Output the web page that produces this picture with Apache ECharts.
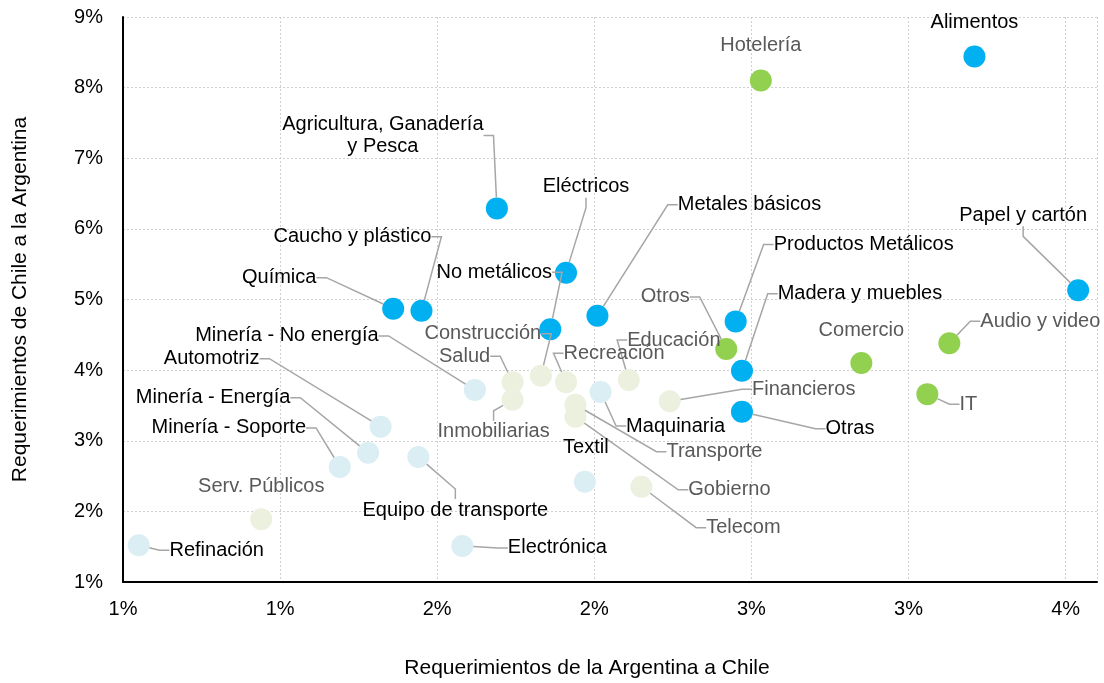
<!DOCTYPE html>
<html>
<head>
<meta charset="utf-8">
<script src="https://cdn.jsdelivr.net/npm/echarts@6/dist/echarts.min.js"></script>
<style>
  html, body { margin: 0; padding: 0; background: #fff; }
  #chart { width: 1104px; height: 683px; }
</style>
</head>
<body>
<div id="chart"></div>
<script>
// values in % (x: Argentina -> Chile, y: Chile -> Argentina)
const blueNames = ['Alimentos', 'Agricultura, Ganadería\ny Pesca', 'Eléctricos', 'Metales básicos', 'Papel y cartón',
  'Caucho y plástico', 'Química', 'No metálicos', 'Productos Metálicos', 'Madera y muebles', 'Otras']
const blueX = [3.21, 1.69, 1.91, 2.01, 3.54, 1.45, 1.36, 1.86, 2.45, 2.47, 2.47]
const blueY = [8.44, 6.29, 5.38, 4.77, 5.13, 4.84, 4.87, 4.58, 4.69, 3.99, 3.41]

const greenNames = ['Hotelería', 'Otros', 'Comercio', 'Audio y video', 'IT']
const greenX = [2.53, 2.42, 2.85, 3.13, 3.06]
const greenY = [8.10, 4.30, 4.10, 4.38, 3.66]

const paleBlueNames = ['Minería - No energía', 'Automotriz', 'Minería - Energía', 'Minería - Soporte',
  'Equipo de transporte', 'Refinación', 'Electrónica', 'Textil', 'Maquinaria']
const paleBlueX = [1.62, 1.32, 1.28, 1.19, 1.44, 0.55, 1.58, 1.97, 2.02]
const paleBlueY = [3.72, 3.20, 2.83, 2.63, 2.77, 1.52, 1.51, 2.42, 3.69]

const paleGreenNames = ['Serv. Públicos', 'Construcción', 'Salud', 'Recreación', 'Educación', 'Inmobiliarias',
  'Financieros', 'Transporte', 'Gobierno', 'Telecom']
const paleGreenX = [0.94, 1.83, 1.74, 1.91, 2.11, 1.74, 2.24, 1.94, 1.94, 2.15]
const paleGreenY = [1.89, 3.92, 3.83, 3.83, 3.86, 3.58, 3.56, 3.51, 3.34, 2.35]

const xTicks = { min: 0.5, max: 3.6, step: 0.5 }
const yTicks = { min: 1, max: 9, step: 1 }

// label placement (pixel shift from the point), kept apart from the data
const labelShift = {
  'Alimentos': [0, -34],
  'Agricultura, Ganadería\ny Pesca': [-114, -73],
  'Eléctricos': [20, -86],
  'Metales básicos': [152, -111],
  'Papel y cartón': [-55, -75],
  'Caucho y plástico': [-69, -74],
  'Química': [-114, -31],
  'No metálicos': [-56, -57],
  'Productos Metálicos': [128, -77],
  'Madera y muebles': [118, -77],
  'Otras': [108, 17],
  'Hotelería': [0, -35],
  'Otros': [-61, -52],
  'Comercio': [0, -33],
  'Audio y video': [91, -22],
  'IT': [41, 10],
  'Minería - No energía': [-188, -54],
  'Automotriz': [-169, -68],
  'Minería - Energía': [-155, -55],
  'Minería - Soporte': [-111, -39],
  'Equipo de transporte': [37, 53],
  'Refinación': [78, 5],
  'Electrónica': [95, 2],
  'Textil': [1, -34],
  'Maquinaria': [75, 34],
  'Serv. Públicos': [0, -33],
  'Construcción': [-58, -42],
  'Salud': [-48, -26],
  'Recreación': [48, -29],
  'Educación': [45, -40],
  'Inmobiliarias': [-19, 32],
  'Financieros': [134, -12],
  'Transporte': [139, 47],
  'Gobierno': [154, 73],
  'Telecom': [102, 41]
}
const noLeader = ['Alimentos', 'Hotelería', 'Comercio', 'Textil', 'Serv. Públicos']

const FONT = 'Liberation Sans, Arial, sans-serif'

const makeSeries = (names, xs, ys, color, textColor) => {
  const data = names.map((n, i) => {
    const item = { name: n, value: [xs[i], ys[i]] }
    if (noLeader.includes(n)) {
      item.labelLine = { show: false }
    }
    return item
  })
  return {
    type: 'scatter',
    symbolSize: 22,
    itemStyle: { color: color, opacity: 1 },
    data: data,
    label: {
      show: true,
      position: 'inside',
      formatter: p => p.name,
      color: textColor,
      fontSize: 20,
      fontFamily: FONT,
      lineHeight: 22,
      align: 'center'
    },
    labelLine: {
      show: true,
      showAbove: true,
      length2: 10,
      lineStyle: { color: '#A6A6A6', width: 1.5 }
    },
    labelLayout: params => {
      const s = labelShift[names[params.dataIndex]] || [0, 0]
      return { dx: s[0], dy: s[1] }
    },
    emphasis: { disabled: true }
  }
}

const chart = echarts.init(document.getElementById('chart'))
chart.setOption({
  animation: false,
  textStyle: { fontFamily: FONT },
  grid: { left: 123, right: 7, top: 17, bottom: 101, outerBoundsMode: 'none' },
  xAxis: {
    type: 'value',
    min: xTicks.min,
    max: xTicks.max,
    interval: xTicks.step,
    name: 'Requerimientos de la Argentina a Chile',
    nameLocation: 'middle',
    nameGap: 76,
    nameTextStyle: { fontSize: 21, color: '#000', fontFamily: FONT, padding: [0, 46, 0, 0] },
    axisLine: { show: true, onZero: false, lineStyle: { color: '#000', width: 2 } },
    axisTick: { show: false },
    axisLabel: {
      fontSize: 20, color: '#000', fontFamily: FONT, margin: 17,
      showMaxLabel: false,
      formatter: v => Math.round(v) + '%'
    },
    splitLine: { show: true, lineStyle: { color: '#D0D0D0', type: [2, 2], width: 1 } }
  },
  yAxis: {
    type: 'value',
    min: yTicks.min,
    max: yTicks.max,
    interval: yTicks.step,
    name: 'Requerimientos de Chile a la Argentina',
    nameLocation: 'middle',
    nameGap: 92,
    nameTextStyle: { fontSize: 21, color: '#000', fontFamily: FONT },
    axisLine: { show: true, onZero: false, lineStyle: { color: '#000', width: 2 } },
    axisTick: { show: false },
    axisLabel: { fontSize: 20, color: '#000', fontFamily: FONT, margin: 20, formatter: v => v + '%' },
    splitLine: { show: true, lineStyle: { color: '#D0D0D0', type: [2, 2], width: 1 } }
  },
  series: [
    makeSeries(paleGreenNames, paleGreenX, paleGreenY, '#EBF1DE', '#595959'),
    makeSeries(paleBlueNames, paleBlueX, paleBlueY, '#DAEEF3', '#000'),
    makeSeries(greenNames, greenX, greenY, '#92D050', '#595959'),
    makeSeries(blueNames, blueX, blueY, '#00B0F0', '#000')
  ]
})
</script>
</body>
</html>
